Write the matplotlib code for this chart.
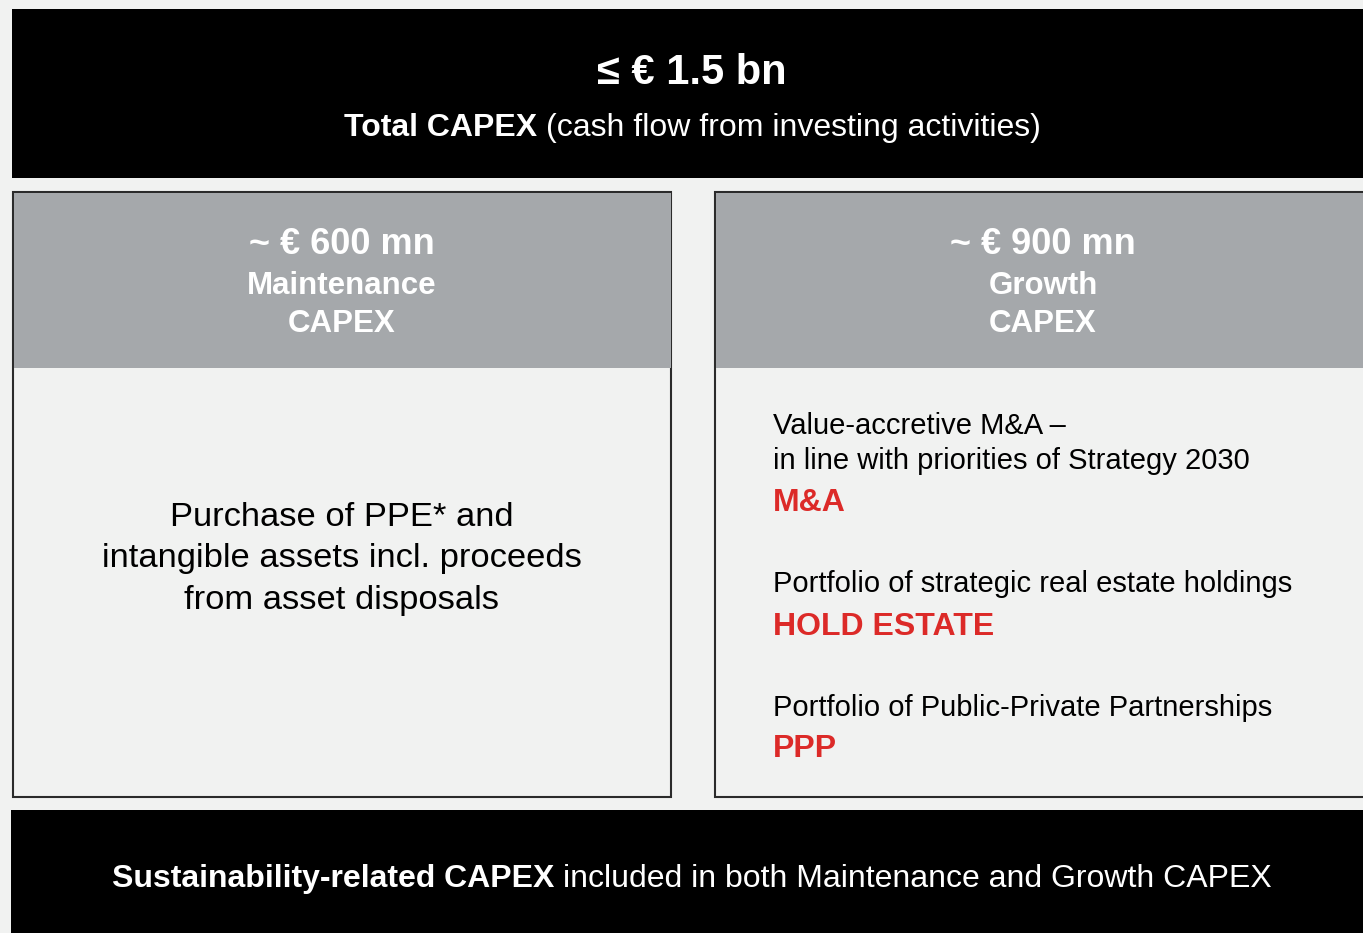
import matplotlib

matplotlib.use("Agg")
import matplotlib.pyplot as plt
from matplotlib.patches import Rectangle

plt.rcParams["font.family"] = ["Liberation Sans", "DejaVu Sans"]

W, H = 1363, 933

# texts
total_amount = "≤ € 1.5 bn"
total_label = [("Total CAPEX", "bold"), ("(cash flow from investing activities)", "normal")]
maint_header = ["~ € 600 mn", "Maintenance", "CAPEX"]
maint_body = ["Purchase of PPE* and", "intangible assets incl. proceeds", "from asset disposals"]
growth_header = ["~ € 900 mn", "Growth", "CAPEX"]
growth_items = [
    (["Value-accretive M&A –", "in line with priorities of Strategy 2030"], "M&A"),
    (["Portfolio of strategic real estate holdings"], "HOLD ESTATE"),
    (["Portfolio of Public-Private Partnerships"], "PPP"),
]
footer = [("Sustainability-related CAPEX", "bold"),
          ("included in both Maintenance and Growth CAPEX", "normal")]

BG = "#f1f2f1"
GREY = "#a5a8ab"
RED = "#dc2a28"

fig = plt.figure(figsize=(W / 100, H / 100), dpi=100)
fig.patch.set_facecolor(BG)
ax = fig.add_axes([0, 0, 1, 1])
ax.set_xlim(0, W)
ax.set_ylim(H, 0)
ax.axis("off")
renderer = fig.canvas.get_renderer()


def text_width(s, size, weight):
    t = ax.text(0, 0, s, fontsize=size, fontweight=weight)
    w = t.get_window_extent(renderer).width
    t.remove()
    return w


def draw_runs(x, y, runs, size, color="white"):
    # runs of mixed weight, centred on x
    space = text_width("a a", size, "normal") - text_width("aa", size, "normal")
    widths = [text_width(s, size, w) for s, w in runs]
    total = sum(widths) + space * (len(runs) - 1)
    cx = x - total / 2
    for (s, w), wd in zip(runs, widths):
        ax.text(cx, y, s, fontsize=size, fontweight=w, color=color,
                ha="left", va="center")
        cx += wd + space


# top banner
ax.add_patch(Rectangle((12, 9), W, 169, facecolor="black", edgecolor="none"))
ax.text(692, 73, total_amount, fontsize=30, fontweight="bold", color="white",
        ha="center", va="center")
draw_runs(692, 128, total_label, 23)

# panels
for x0, header in [(13, maint_header), (715, growth_header)]:
    ax.add_patch(Rectangle((x0, 192), 658 if x0 == 13 else 700, 605,
                           facecolor=BG, edgecolor="#2b2b2b", linewidth=1.5))
    ax.add_patch(Rectangle((x0 + 1, 193), (657 if x0 == 13 else 699), 175,
                           facecolor=GREY, edgecolor="none"))
    cx = 342 if x0 == 13 else 1043
    ax.text(cx, 245, header[0], fontsize=26, fontweight="bold", color="white",
            ha="center", va="center")
    for yy, s in zip([286, 324], header[1:]):
        ax.text(cx, yy, s, fontsize=22.5, fontweight="bold", color="white",
                ha="center", va="center")

for yy, s in zip([517, 559, 600], maint_body):
    ax.text(342, yy, s, fontsize=24.8, color="black", ha="center", va="center")

y_positions = [([426, 461], 503), ([584], 627), ([708], 749)]
for (lines, tag), (ys, ytag) in zip(growth_items, y_positions):
    for yy, s in zip(ys, lines):
        ax.text(773, yy, s, fontsize=21, color="black", ha="left", va="center")
    ax.text(773, ytag, tag, fontsize=23, fontweight="bold", color=RED,
            ha="left", va="center")

# bottom banner
ax.add_patch(Rectangle((11, 810), W, 130, facecolor="black", edgecolor="none"))
draw_runs(692, 879, footer, 23)

fig.savefig("out.png", dpi=100, facecolor=BG)
